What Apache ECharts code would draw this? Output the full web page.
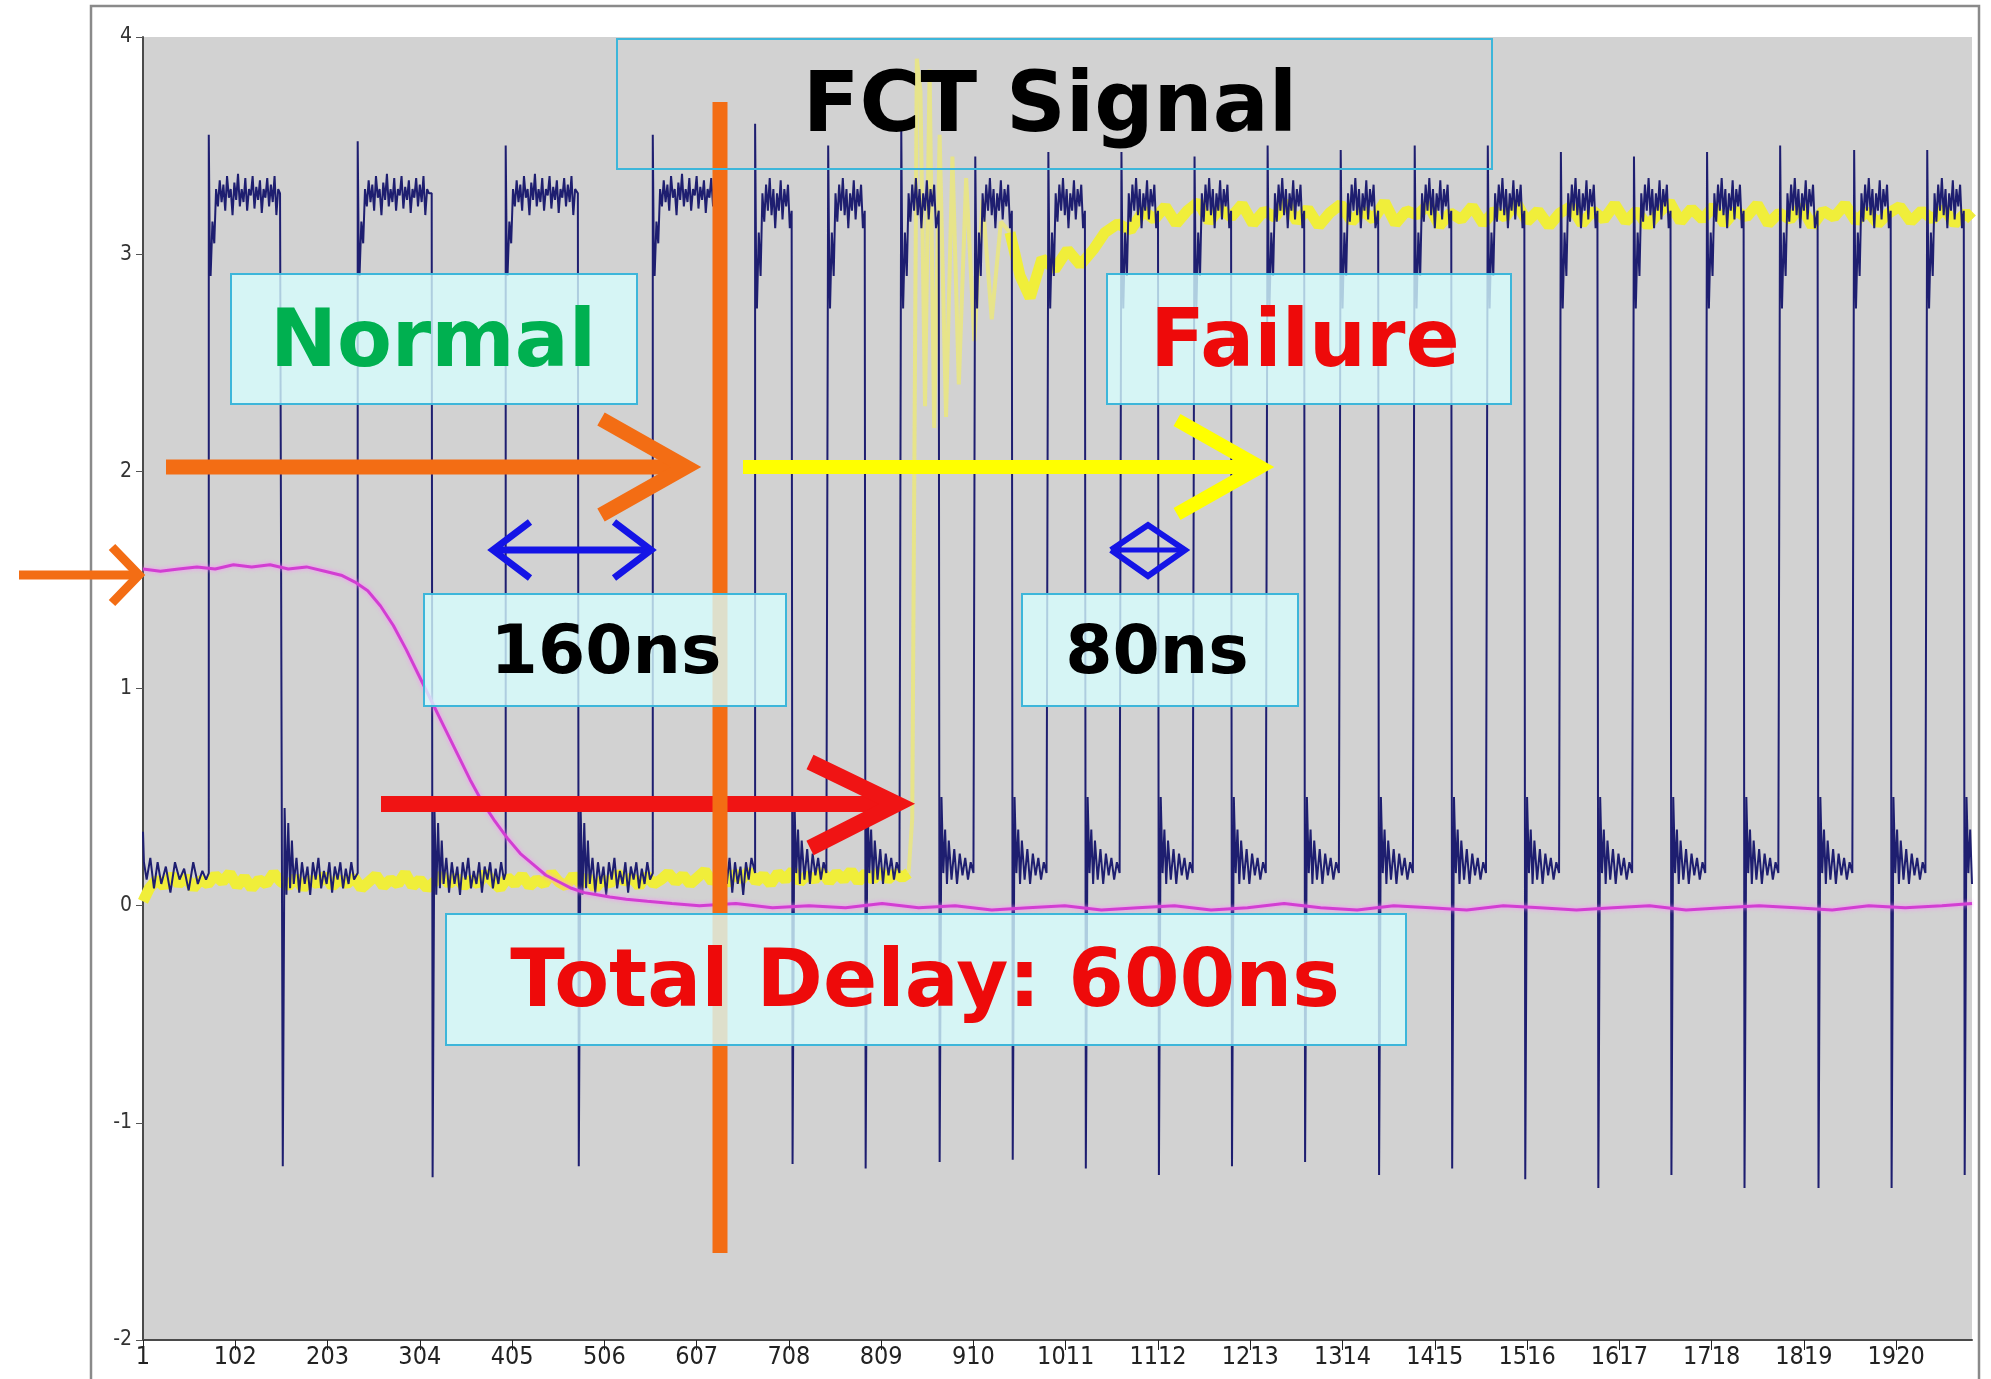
<!DOCTYPE html>
<html>
<head>
<meta charset="utf-8">
<script src="https://cdn.jsdelivr.net/npm/echarts/dist/echarts.min.js"></script>
<style>
html,body{margin:0;padding:0;background:#fff;}
#chart{width:1991px;height:1379px;}
</style>
</head>
<body>
<div id="chart"></div>
<script>
// ---------- axis data ----------
const X_MIN = 1, X_MAX = 2003;
const xTickValues = [1,102,203,304,405,506,607,708,809,910,1011,1112,1213,1314,1415,1516,1617,1718,1819,1920];
const yTicks = [-2,-1,0,1,2,3,4];

// ---------- navy clock signal (edge times in samples) ----------
const normalRise = [73, 236, 398, 559];
const normalFall = [153, 317, 477, 627];
const normalTop = [3.55, 3.52, 3.5, 3.55];
const normalBottom = [-1.2, -1.25, -1.2, -1.2];
const failRise = [671, 751, 831, 912, 992, 1072, 1152, 1232, 1312, 1393, 1473, 1553, 1633, 1713, 1793, 1874, 1954];
const failFall = [711, 791, 872, 952, 1032, 1112, 1192, 1272, 1353, 1433, 1513, 1593, 1673, 1753, 1834, 1914, 1994];
const failTop = [3.6, 3.5, 3.58, 3.45, 3.47, 3.47, 3.45, 3.5, 3.48, 3.5, 3.5, 3.47, 3.45, 3.47, 3.5, 3.48, 3.48];
const failBottom = [-1.19, -1.21, -1.18, -1.17, -1.21, -1.24, -1.2, -1.18, -1.24, -1.21, -1.26, -1.3, -1.24, -1.3, -1.3, -1.3, -1.24];
const initialLow = [[1,0.34],[2,0.2],[5,0.12],[9,0.22],[13,0.08],[17,0.2],[21,0.1],[26,0.18],[31,0.06],[36,0.2],[41,0.12],[46,0.17],[51,0.07],[56,0.2],[61,0.1],[66,0.16],[70,0.12]];
const rippleHighNormal = [[0,0],[1,3.05],[2,2.9],[4,3.15],[6,3.05],[8,3.3],[10,3.22],[12,3.34],[14,3.24],[16,3.32],[18,3.2],[20,3.36],[22,3.26],[24,3.3],[26,3.18],[28,3.33],[30,3.25],[32,3.37],[34,3.22],[36,3.3],[38,3.24],[40,3.35],[42,3.2],[44,3.3],[46,3.27],[48,3.36],[50,3.21],[52,3.31],[54,3.25],[56,3.34],[58,3.19],[60,3.3],[62,3.26],[64,3.35],[66,3.22],[68,3.32],[70,3.24],[72,3.36],[74,3.18],[76,3.3],[78,3.28]];
const rippleLowNormal = [[0,3.28],[1,0],[3,0.45],[5,0.05],[7,0.38],[9,0.08],[11,0.3],[13,0.1],[16,0.22],[19,0.06],[22,0.2],[25,0.1],[28,0.18],[31,0.05],[34,0.2],[37,0.12],[40,0.22],[43,0.08],[46,0.16],[49,0.1],[52,0.2],[55,0.06],[58,0.18],[61,0.12],[64,0.2],[67,0.08],[70,0.17],[73,0.1],[76,0.2],[79,0.12]];
const rippleHighFail = [[0,0],[1,3.0],[2,2.75],[4,3.1],[6,2.9],[8,3.28],[10,3.15],[12,3.32],[14,3.2],[16,3.35],[18,3.18],[20,3.3],[22,3.12],[24,3.28],[26,3.2],[28,3.34],[30,3.16],[32,3.3],[34,3.22],[36,3.32],[38,3.12]];
const rippleLowFail = [[0,3.2],[1,0],[3,0.5],[5,0.15],[7,0.35],[9,0.1],[11,0.3],[14,0.12],[17,0.26],[20,0.1],[23,0.24],[26,0.14],[29,0.22],[32,0.12],[35,0.2],[38,0.15]];

// ---------- yellow signal ----------
const yellowLow = [[1,0.02],[8,0.08],[16,0.12],[24,0.09],[32,0.14],[40,0.1],[48,0.13],[56,0.08],[64,0.12],[72,0.1],[80,0.14],[88,0.11],[96,0.15],[104,0.09],[112,0.13],[120,0.08],[128,0.12],[136,0.1],[144,0.15],[152,0.11],[160,0.09],[168,0.13],[176,0.08],[184,0.12],[192,0.1],[200,0.14],[208,0.09],[216,0.12],[224,0.1],[232,0.13],[240,0.08],[248,0.11],[256,0.14],[264,0.09],[272,0.12],[280,0.1],[288,0.15],[296,0.09],[304,0.12],[312,0.08],[320,0.11],[328,0.14],[336,0.1],[344,0.13],[352,0.09],[360,0.12],[368,0.1],[376,0.15],[384,0.11],[392,0.08],[400,0.13],[408,0.1],[416,0.14],[424,0.09],[432,0.12],[440,0.1],[448,0.15],[456,0.11],[464,0.09],[472,0.14],[480,0.1],[488,0.13],[496,0.08],[504,0.12],[512,0.1],[520,0.15],[528,0.11],[536,0.13],[544,0.09],[552,0.14],[560,0.1],[568,0.12],[576,0.15],[584,0.11],[592,0.14],[600,0.1],[608,0.13],[616,0.16],[624,0.11],[632,0.14],[640,0.1],[648,0.15],[656,0.12],[664,0.16],[672,0.11],[680,0.14],[688,0.1],[696,0.15],[704,0.12],[712,0.16],[720,0.11],[728,0.14],[736,0.12],[744,0.16],[752,0.11],[760,0.15],[768,0.12],[776,0.16],[784,0.11],[792,0.15],[800,0.12],[808,0.16],[816,0.12],[824,0.15],[832,0.13],[839,0.15]];
const yellowRing = [[839,0.15],[843,0.4],[848,3.9],[852,3.75],[857,2.3],[862,3.85],[867,2.2],[873,3.55],[880,2.25],[887,3.45],[894,2.4],[902,3.35],[911,2.6],[920,3.25],[930,2.7],[940,3.15],[950,3.1]];
const yellowHigh = [[950,3.1],[961,2.9],[972,2.8],[985,2.98],[999,2.93],[1013,3.02],[1027,2.95],[1041,3.02],[1054,3.1],[1068,3.14],[1082,3.11],[1096,3.2],[1108,3.16],[1120,3.22],[1132,3.14],[1144,3.2],[1156,3.24],[1168,3.15],[1180,3.21],[1192,3.17],[1204,3.23],[1216,3.14],[1228,3.2],[1240,3.17],[1252,3.24],[1264,3.15],[1276,3.21],[1288,3.13],[1300,3.19],[1312,3.23],[1324,3.15],[1336,3.2],[1348,3.16],[1360,3.24],[1372,3.14],[1384,3.2],[1396,3.18],[1408,3.23],[1420,3.13],[1432,3.19],[1444,3.16],[1456,3.22],[1468,3.14],[1480,3.2],[1492,3.17],[1504,3.24],[1516,3.15],[1528,3.2],[1540,3.13],[1552,3.19],[1564,3.22],[1576,3.14],[1588,3.2],[1600,3.16],[1612,3.23],[1624,3.15],[1636,3.2],[1648,3.13],[1660,3.19],[1672,3.24],[1684,3.15],[1696,3.21],[1708,3.16],[1720,3.22],[1732,3.14],[1744,3.2],[1756,3.17],[1768,3.23],[1780,3.14],[1792,3.19],[1804,3.16],[1816,3.22],[1828,3.13],[1840,3.2],[1852,3.17],[1864,3.23],[1876,3.15],[1888,3.2],[1900,3.14],[1912,3.19],[1924,3.22],[1936,3.15],[1948,3.2],[1960,3.16],[1972,3.21],[1984,3.14],[1996,3.19],[2003,3.16]];

// ---------- magenta signal ----------
const magenta = [[1,1.55],[20,1.54],[40,1.55],[60,1.56],[80,1.55],[100,1.57],[120,1.56],[140,1.57],[160,1.55],[180,1.56],[200,1.54],[219,1.52],[233,1.49],[247,1.45],[261,1.38],[275,1.29],[289,1.18],[303,1.06],[317,0.94],[331,0.82],[345,0.7],[359,0.58],[372,0.48],[386,0.39],[400,0.31],[414,0.24],[428,0.19],[442,0.14],[456,0.11],[470,0.08],[484,0.06],[498,0.05],[512,0.04],[530,0.03],[553,0.02],[580,0.01],[610,0.0],[650,0.01],[690,-0.01],[730,0.0],[770,-0.01],[810,0.01],[850,-0.01],[890,0.0],[930,-0.02],[970,-0.01],[1010,0.0],[1050,-0.02],[1090,-0.01],[1130,0.0],[1170,-0.02],[1210,-0.01],[1250,0.01],[1290,-0.01],[1330,-0.02],[1370,0.0],[1410,-0.01],[1450,-0.02],[1490,0.0],[1530,-0.01],[1570,-0.02],[1610,-0.01],[1650,0.0],[1690,-0.02],[1730,-0.01],[1770,0.0],[1810,-0.01],[1850,-0.02],[1890,0.0],[1930,-0.01],[1970,0.0],[2003,0.01]];

// ---------- assemble navy trace from edges + read shapes ----------
function buildNavy() {
  const pts = initialLow.slice();
  const rises = normalRise.concat(failRise);
  const falls = normalFall.concat(failFall);
  const tops = normalTop.concat(failTop);
  const bottoms = normalBottom.concat(failBottom);
  for (let i = 0; i < rises.length; i++) {
    const isFail = i >= normalRise.length;
    const hi = isFail ? rippleHighFail : rippleHighNormal;
    const lo = isFail ? rippleLowFail : rippleLowNormal;
    const r = rises[i], f = falls[i];
    const nextR = i + 1 < rises.length ? rises[i + 1] : X_MAX + 2;
    pts.push([r, 0.15]);
    hi.forEach((p, j) => { if (r + p[0] < f - 1) pts.push([r + p[0], j === 0 ? tops[i] : p[1]]); });
    lo.forEach((p, j) => {
      const x = f + p[0];
      if (x < nextR - 1 && x <= X_MAX) pts.push([x, j === 1 ? bottoms[i] : p[1]]);
    });
  }
  return pts;
}
const navy = buildNavy();

// ---------- annotations (pixel overlay) ----------
const ORANGE = '#f36d14', YEL = '#ffff00', RED = '#f01414', BLUE = '#1414e6';
const G = [];
function pl(points, color, width, z) {
  G.push({type:'polyline', silent:true, z:z||10, shape:{points}, style:{stroke:color, lineWidth:width, fill:null, lineJoin:'miter', lineCap:'butt'}});
}
function box(x, y, w, h, fill) {
  G.push({type:'rect', silent:true, z:20, shape:{x, y, width:w, height:h}, style:{fill: fill, stroke:'#3db6da', lineWidth:2}});
}
function label(txt, x, y, color, size) {
  G.push({type:'text', silent:true, z:30, x, y, style:{text:txt, fill:color, font:'bold ' + size + 'px "DejaVu Sans"', align:'center', verticalAlign:'middle'}});
}
const BOXFILL = 'rgba(215,255,255,0.78)';
// outer frame
G.push({type:'rect', silent:true, z:0, shape:{x:91, y:6, width:1888, height:1420}, style:{fill:null, stroke:'#8a8a8a', lineWidth:2.5}});
// arrows
pl([[166,467],[680,467]], ORANGE, 15);
pl([[601,419],[686,467],[601,515]], ORANGE, 15);
pl([[743,467],[1255,467]], YEL, 14);
pl([[1177,420],[1260,467],[1177,514]], YEL, 14);
pl([[381,804],[895,804]], RED, 16);
pl([[810,762],[897,804],[810,848]], RED, 16);
pl([[494,550],[650,550]], BLUE, 7);
pl([[530,522],[493,550],[530,578]], BLUE, 7);
pl([[614,522],[651,550],[614,578]], BLUE, 7);
pl([[1111,550],[1148,525],[1185,550],[1148,576],[1111,550]], BLUE, 6);
pl([[1111,550],[1185,550]], BLUE, 5);
pl([[19,575],[136,575]], ORANGE, 9);
pl([[112,547],[139,575],[112,603]], ORANGE, 9);
pl([[720,102],[720,1253]], ORANGE, 15, 12);
// boxes + texts
box(617, 39, 875, 130, null);
box(231, 274, 406, 130, BOXFILL);
box(1107, 274, 404, 130, BOXFILL);
box(424, 594, 362, 112, BOXFILL);
box(1022, 594, 276, 112, BOXFILL);
box(446, 914, 960, 131, BOXFILL);
label('FCT Signal', 1050, 109, '#000000', 83);
label('Normal', 433, 345, '#00b050', 80);
label('Failure', 1305, 345, '#ee0a0a', 80);
label('160ns', 606, 655, '#000000', 68);
label('80ns', 1157, 655, '#000000', 68);
label('Total Delay: 600ns', 925, 985, '#ee0a0a', 80);

const chart = echarts.init(document.getElementById('chart'), null, {renderer:'canvas'});
const axisFont = '"DejaVu Sans Condensed", "DejaVu Sans", sans-serif';
chart.setOption({
  animation: false,
  backgroundColor: '#ffffff',
  grid: {left: 143, right: 19, top: 37, bottom: 39, show: true, backgroundColor: '#d2d2d2', borderWidth: 0},
  xAxis: {
    type: 'value', min: X_MIN, max: X_MAX,
    axisLine: {show: true, onZero: false, lineStyle: {color: '#4a4a4a', width: 2}},
    axisTick: {show: true, customValues: xTickValues, length: 10, lineStyle: {color: '#222'}},
    axisLabel: {customValues: xTickValues, formatter: v => String(v), color: '#222', fontFamily: axisFont, fontSize: 25, margin: 5},
    splitLine: {show: false}
  },
  yAxis: {
    type: 'value', min: yTicks[0], max: yTicks[yTicks.length - 1], interval: 1,
    axisLine: {show: true, lineStyle: {color: '#4a4a4a', width: 2}},
    axisTick: {show: true, length: 7, lineStyle: {color: '#555'}},
    axisLabel: {formatter: v => String(v), color: '#333', fontFamily: axisFont, fontSize: 21, margin: 11},
    splitLine: {show: false}
  },
  series: [
    {type:'line', data: yellowLow, showSymbol:false, silent:true, lineStyle:{color:'#f0ee3a', width:11}},
    {type:'line', data: yellowRing, showSymbol:false, silent:true, lineStyle:{color:'rgba(245,240,90,0.6)', width:4}},
    {type:'line', data: yellowHigh, showSymbol:false, silent:true, lineStyle:{color:'#f0ee3a', width:11}},
    {type:'line', data: navy, showSymbol:false, silent:true, sampling: null, lineStyle:{color:'#1e1e70', width:2}},
    {type:'line', data: magenta, showSymbol:false, silent:true, lineStyle:{color:'#d23ed2', width:3, shadowColor:'rgba(255,130,255,0.9)', shadowBlur:4}}
  ],
  graphic: {elements: G}
});
</script>
</body>
</html>
